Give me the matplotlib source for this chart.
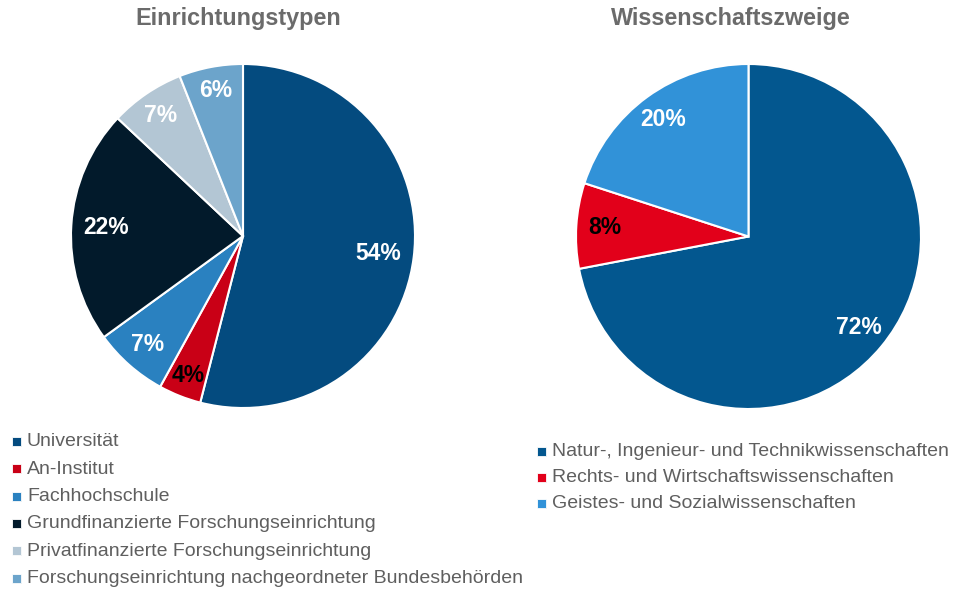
import matplotlib
matplotlib.use("Agg")
import matplotlib.pyplot as plt
from matplotlib.patches import Rectangle

plt.rcParams['font.family'] = ['Liberation Sans', 'DejaVu Sans']

# ---- data ----
left_title = "Einrichtungstypen"
left_labels = ["Universität", "An-Institut", "Fachhochschule",
               "Grundfinanzierte Forschungseinrichtung",
               "Privatfinanzierte Forschungseinrichtung",
               "Forschungseinrichtung nachgeordneter Bundesbehörden"]
left_values = [54, 4, 7, 22, 7, 6]

right_title = "Wissenschaftszweige"
right_labels = ["Natur-, Ingenieur- und Technikwissenschaften",
                "Rechts- und Wirtschaftswissenschaften",
                "Geistes- und Sozialwissenschaften"]
right_values = [72, 8, 20]

# ---- style ----
left_colors = ['#044B7F', '#C90016', '#2A81C0', '#021A2B', '#B3C6D4', '#6CA4CB']
left_txt = ['white', 'black', 'white', 'white', 'white', 'white']
left_dist = [0.79, 0.87, 0.84, 0.80, 0.85, 0.86]
right_colors = ['#03578F', '#E2001A', '#3192D8']
right_txt = ['white', 'black', 'white']
right_dist = [0.83, 0.835, 0.84]

W, H = 973, 589
fig = plt.figure(figsize=(W / 100, H / 100), dpi=100)
fig.patch.set_facecolor('white')


def add_pie(cx, cy, r, values, colors, txtcols, dists):
    ax = fig.add_axes([(cx - r) / W, (H - cy - r) / H, 2 * r / W, 2 * r / H])
    ld = 0.8
    wedges, texts = ax.pie(values, colors=colors, startangle=90, counterclock=False,
                           radius=1.0, labels=[f"{v}%" for v in values],
                           labeldistance=ld,
                           wedgeprops=dict(edgecolor='white', linewidth=1.5),
                           textprops=dict(fontsize=16.5, fontweight='bold'))
    for t, c, d in zip(texts, txtcols, dists):
        x, y = t.get_position()
        t.set_position((x / ld * d, y / ld * d))
        t.set_color(c)
        t.set_ha('center')
        t.set_va('center')
    ax.set_xlim(-1, 1)
    ax.set_ylim(-1, 1)
    ax.set_aspect('equal')
    ax.axis('off')
    return wedges


lw = add_pie(243, 236, 172, left_values, left_colors, left_txt, left_dist)
rw = add_pie(748.5, 236.5, 172.5, right_values, right_colors, right_txt, right_dist)

title_col = '#6B6B6B'
fig.text(238 / W, 1 - 18 / H, left_title, ha='center', va='center',
         fontsize=16.8, fontweight='bold', color=title_col)
fig.text(731 / W, 1 - 18 / H, right_title, ha='center', va='center',
         fontsize=16.8, fontweight='bold', color=title_col)

legend_col = '#5F5F5F'


def add_legend(x_text, y_first, step, labels, colors):
    for i, (lab, c) in enumerate(zip(labels, colors)):
        y = y_first + i * step
        fig.patches.append(Rectangle(((x_text - 14) / W, 1 - (y + 5) / H), 9 / W, 9 / H,
                                     transform=fig.transFigure, facecolor='#D0D0D0',
                                     edgecolor='none'))
        fig.patches.append(Rectangle(((x_text - 15) / W, 1 - (y + 4) / H), 9 / W, 9 / H,
                                     transform=fig.transFigure, facecolor=c,
                                     edgecolor='white', linewidth=0.6))
        fig.text(x_text / W, 1 - y / H, lab, ha='left', va='center',
                 fontsize=14, color=legend_col)


add_legend(27, 442, 27.3, left_labels, left_colors)
add_legend(552, 452, 26.0, right_labels, right_colors)

fig.savefig('out.png', dpi=100, facecolor='white')
